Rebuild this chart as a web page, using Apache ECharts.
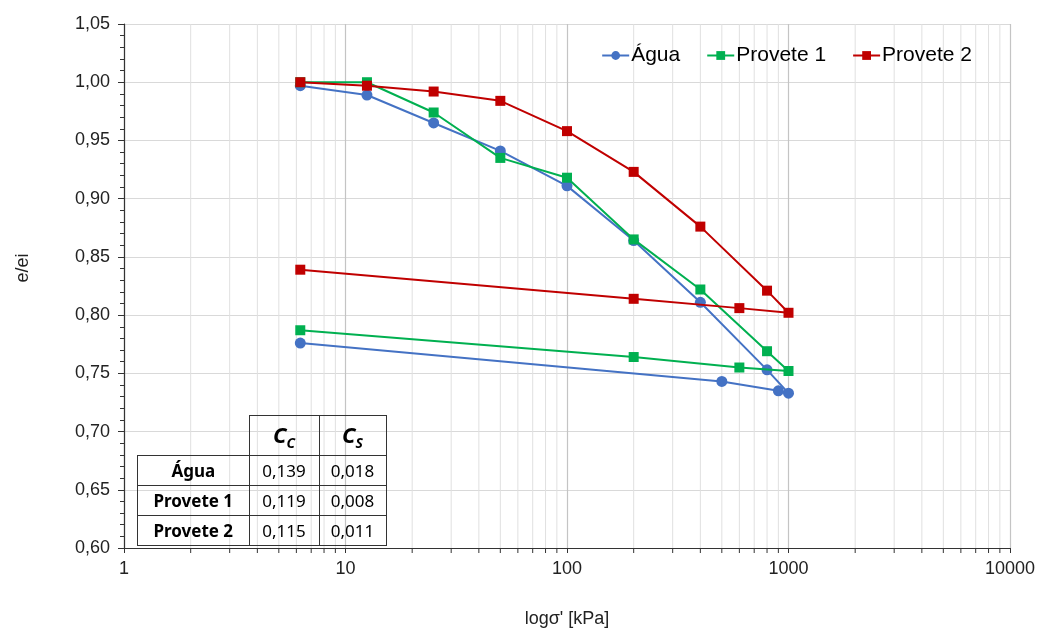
<!DOCTYPE html>
<html>
<head>
<meta charset="utf-8">
<script src="https://cdn.jsdelivr.net/npm/echarts@6/dist/echarts.min.js"></script>
<style>
  body { margin: 0; background: #fff; }
  #chart { width: 1043px; height: 633px; }
  #tbl { position: absolute; left: 137px; top: 415px; border-collapse: collapse;
         font-family: "Noto Sans", sans-serif; font-size: 17px; color: #000; }
  #tbl td { border: 1.5px solid #333; padding: 0; text-align: center; height: 29px; }
  #tbl td.blank { border: none; }
  #tbl tr.head td { height: 39px; font-size: 22px; }
</style>
</head>
<body>
<div id="chart"></div>
<table id="tbl"></table>
<script>
// tensões (kPa) e índice de vazios normalizado
var aguaX = [6.25, 12.5, 25, 50, 100, 200, 400, 800, 1000, 900, 500, 6.25];
var aguaY = [0.997, 0.989, 0.965, 0.941, 0.911, 0.864, 0.811, 0.753, 0.733, 0.735, 0.743, 0.776];
var prov1X = [6.25, 12.5, 25, 50, 100, 200, 400, 800, 1000, 600, 200, 6.25];
var prov1Y = [1.000, 1.000, 0.974, 0.935, 0.918, 0.865, 0.822, 0.769, 0.752, 0.755, 0.764, 0.787];
var prov2X = [6.25, 12.5, 25, 50, 100, 200, 400, 800, 1000, 600, 200, 6.25];
var prov2Y = [1.000, 0.997, 0.992, 0.984, 0.958, 0.923, 0.876, 0.821, 0.802, 0.806, 0.814, 0.839];

var minorX = [2,3,4,5,6,7,8,9, 20,30,40,50,60,70,80,90, 200,300,400,500,600,700,800,900,
              2000,3000,4000,5000,6000,7000,8000,9000];

// tabela Cc / Cs
var tblRows = ['Água', 'Provete 1', 'Provete 2'];
var ccVals = ['0,139', '0,119', '0,115'];
var csVals = ['0,018', '0,008', '0,011'];

function pairs(xs, ys) {
    return xs.map(function (x, i) { return [x, ys[i]]; });
}

var html = '<tr class="head"><td class="blank" style="width:111px"></td>' +
    '<td style="width:69px"><b><i>C<sub style="font-size:14px">C</sub></i></b></td>' +
    '<td style="width:66px"><b><i>C<sub style="font-size:14px">S</sub></i></b></td></tr>';
tblRows.forEach(function (r, i) {
    html += '<tr><td><b>' + r + '</b></td><td>' + ccVals[i] + '</td><td>' + csVals[i] + '</td></tr>';
});
document.getElementById('tbl').innerHTML = html;

var chart = echarts.init(document.getElementById('chart'));
var font = 'Liberation Sans, Arial, sans-serif';

var option = {
    animation: false,
    textStyle: { fontFamily: font },
    grid: { left: 124, right: 33, top: 24, bottom: 83 },
    legend: {
        data: ['Água', 'Provete 1', 'Provete 2'],
        right: 66, top: 40,
        itemGap: 26, itemWidth: 27, itemHeight: 11,
        textStyle: { fontSize: 21, color: '#000', fontFamily: font, padding: [0, 0, 0, -3] }
    },
    xAxis: {
        type: 'log', logBase: 10, min: 1, max: 10000,
        name: "logσ' [kPa]", nameLocation: 'middle', nameGap: 62,
        nameTextStyle: { fontSize: 18, color: '#222' },
        axisLine: { lineStyle: { color: '#333', width: 1.2 } },
        axisTick: { show: true, length: 5, lineStyle: { color: '#333' } },
        axisLabel: {
            fontSize: 18, color: '#222', margin: 12,
            formatter: function (v) { return String(Math.round(v)); }
        },
        splitLine: { show: true, lineStyle: { color: '#c4c4c4', width: 1.2 } }
    },
    yAxis: {
        type: 'value', min: 0.6, max: 1.05, interval: 0.05,
        name: 'e/ei', nameLocation: 'middle', nameGap: 92,
        nameTextStyle: { fontSize: 18, color: '#222', padding: [0, 0, 0, 36] },
        axisLine: { show: true, lineStyle: { color: '#333', width: 1.2 } },
        axisTick: { show: true, length: 6, lineStyle: { color: '#333' } },
        minorTick: { show: true, splitNumber: 5, length: 4, lineStyle: { color: '#333' } },
        axisLabel: {
            fontSize: 18, color: '#222', margin: 14,
            formatter: function (v) { return v.toFixed(2).replace('.', ','); }
        },
        splitLine: { show: true, lineStyle: { color: '#d9d9d9', width: 1.2 } }
    },
    series: [
        {
            type: 'custom', silent: true, z: 1, clip: false,
            data: minorX.map(function (v) { return [v, 0.6]; }),
            renderItem: function (params, api) {
                var b = api.coord([api.value(0), 0.6]);
                var t = api.coord([api.value(0), 1.05]);
                return {
                    type: 'group',
                    children: [
                        { type: 'line', shape: { x1: b[0], y1: b[1], x2: t[0], y2: t[1] },
                          style: { stroke: '#e0e0e0', lineWidth: 1 } },
                        { type: 'line', shape: { x1: b[0], y1: b[1], x2: b[0], y2: b[1] + 5 },
                          style: { stroke: '#333', lineWidth: 1 } }
                    ]
                };
            }
        },
        {
            name: 'Água', type: 'line', z: 3,
            data: pairs(aguaX, aguaY),
            symbol: 'circle', symbolSize: 11,
            itemStyle: { color: '#4472C4' },
            lineStyle: { color: '#4472C4', width: 2 }
        },
        {
            name: 'Provete 1', type: 'line', z: 4,
            data: pairs(prov1X, prov1Y),
            symbol: 'rect', symbolSize: 10,
            itemStyle: { color: '#00B050' },
            lineStyle: { color: '#00B050', width: 2 }
        },
        {
            name: 'Provete 2', type: 'line', z: 5,
            data: pairs(prov2X, prov2Y),
            symbol: 'rect', symbolSize: 10,
            itemStyle: { color: '#C00000' },
            lineStyle: { color: '#C00000', width: 2 }
        }
    ]
};
chart.setOption(option);
</script>
</body>
</html>
